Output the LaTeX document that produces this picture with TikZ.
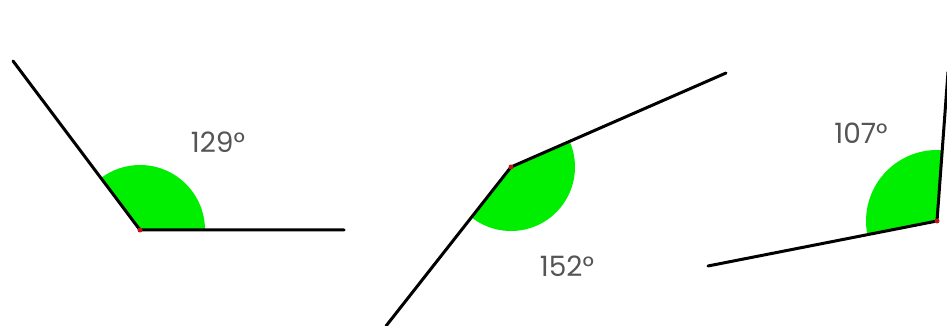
\documentclass[tikz,border=0pt]{standalone}
\usepackage{fontspec}
\setmainfont{Poppins}
\definecolor{sectorgreen}{RGB}{0, 238, 0}
\definecolor{labelgray}{RGB}{85, 85, 85}
\definecolor{vertexred}{RGB}{190, 20, 20}

\begin{document}
\begin{tikzpicture}[
    x=1pt, y=1pt,
    ray/.style={line width=3pt, line cap=round},
    sector/.style={fill=sectorgreen},
    anglelabel/.style={text=labelgray, font=\fontsize{28}{32}\selectfont, inner sep=0pt},
    vertexdot/.style={fill=vertexred}
  ]
  \useasboundingbox (0,0) rectangle (947,326);

  % first angle
  \coordinate (vA) at (140,96);
  \coordinate (endA1) at (344,96);
  \coordinate (endA2) at (13,265);
  \fill[sector] (vA) -- ++(0:65) arc[start angle=0, end angle=127, radius=65] -- cycle;
  \draw[ray] (endA2) -- (vA) -- (endA1);
  \fill[vertexdot] (vA) circle (2.5);
  \node[anglelabel] (labelA) at (218,184) {129°};

  % second angle
  \coordinate (vB) at (511,159);
  \coordinate (endB1) at (726,253);
  \coordinate (endB2) at (386,0);
  \fill[sector] (vB) -- ++(-128.2:64) arc[start angle=-128.2, end angle=23.6, radius=64] -- cycle;
  \draw[ray] (endB2) -- (vB) -- (endB1);
  \fill[vertexdot] (vB) circle (2.5);
  \node[anglelabel] (labelB) at (567,60) {152°};

  % third angle
  \coordinate (vC) at (937,105);
  \coordinate (endC1) at (708,60);
  \coordinate (endC2) at (948,254);
  \fill[sector] (vC) -- ++(85.5:71) arc[start angle=85.5, end angle=191.2, radius=71] -- cycle;
  \draw[ray] (endC1) -- (vC) -- (endC2);
  \fill[vertexdot] (vC) circle (2.5);
  \node[anglelabel] (labelC) at (861,193) {107°};
\end{tikzpicture}
\end{document}
